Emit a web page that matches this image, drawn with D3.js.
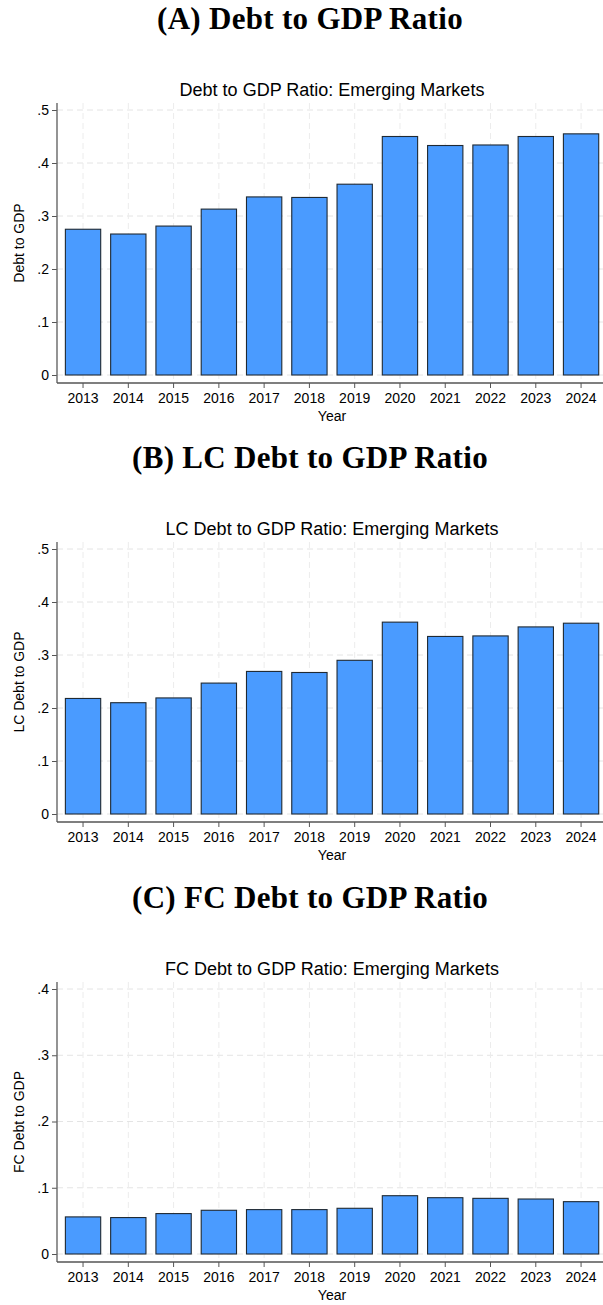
<!DOCTYPE html>
<meta charset="utf-8">
<html>
<head>
<script src="https://d3js.org/d3.v7.min.js"></script>
<style>
body { margin: 0; background: #fff; }
svg text { font-family: "Liberation Sans", Arial, Helvetica, sans-serif; }
.ptitle { font-family: "Liberation Serif", "Times New Roman", serif !important; font-weight: bold; }
</style>
</head>
<body>
<div id="chart"></div>
<script>

// data
var years = [2013, 2014, 2015, 2016, 2017, 2018, 2019, 2020, 2021, 2022, 2023, 2024];
var debtGdp   = [0.275, 0.266, 0.281, 0.313, 0.336, 0.335, 0.360, 0.450, 0.433, 0.434, 0.450, 0.455];
var lcDebtGdp = [0.218, 0.210, 0.219, 0.247, 0.269, 0.267, 0.290, 0.362, 0.335, 0.336, 0.353, 0.360];
var fcDebtGdp = [0.056, 0.055, 0.061, 0.066, 0.067, 0.067, 0.069, 0.088, 0.085, 0.084, 0.083, 0.079];

var panelTitles = ["(A) Debt to GDP Ratio", "(B) LC Debt to GDP Ratio", "(C) FC Debt to GDP Ratio"];
var subTitles = ["Debt to GDP Ratio: Emerging Markets", "LC Debt to GDP Ratio: Emerging Markets", "FC Debt to GDP Ratio: Emerging Markets"];
var yLabels = ["Debt to GDP", "LC Debt to GDP", "FC Debt to GDP"];
var yTicksAB = [0, 0.1, 0.2, 0.3, 0.4, 0.5];
var yTicksC = [0, 0.1, 0.2, 0.3, 0.4];

var W = 603, H = 1305;
var svg = d3.select("#chart")
  .append("svg")
    .attr("width", W)
    .attr("height", H);

var fmt = function(d) { return d === 0 ? "0" : d3.format(".1f")(d).replace("0.", "."); };

function drawPanel(off, title, sub, ylab, values, yTicks) {
  var g = svg.append("g").attr("transform", "translate(0," + off + ")");

  var left = 57, right = 603, top = 103, bottom = 383;

  var x = d3.scaleBand()
    .domain(years)
    .range([60.4, 603.7])
    .paddingInner(0.22)
    .paddingOuter(0.11);

  var y = d3.scaleLinear()
    .domain([0, d3.max(yTicks)])
    .range([375, 110]);

  // titles
  g.append("text")
    .attr("class", "ptitle")
    .attr("x", 310).attr("y", 29)
    .attr("text-anchor", "middle")
    .style("font-size", "31px")
    .style("letter-spacing", "0.3px")
    .text(title);
  g.append("text")
    .attr("x", 332).attr("y", 96)
    .attr("text-anchor", "middle")
    .style("font-size", "18px")
    .text(sub);

  // grid
  g.append("g").selectAll("line")
    .data(yTicks)
    .enter()
    .append("line")
      .attr("x1", left).attr("x2", right)
      .attr("y1", function(d) { return y(d); })
      .attr("y2", function(d) { return y(d); })
      .attr("stroke", "#e4e4e4")
      .attr("stroke-dasharray", "6,4");
  g.append("g").selectAll("line")
    .data(years)
    .enter()
    .append("line")
      .attr("x1", function(d) { return x(d) + x.bandwidth() / 2; })
      .attr("x2", function(d) { return x(d) + x.bandwidth() / 2; })
      .attr("y1", top).attr("y2", bottom)
      .attr("stroke", "#ececec")
      .attr("stroke-dasharray", "6,4");

  // bars
  g.append("g").selectAll("rect")
    .data(values)
    .enter()
    .append("rect")
      .attr("x", function(d, i) { return x(years[i]); })
      .attr("y", function(d) { return y(d); })
      .attr("width", x.bandwidth())
      .attr("height", function(d) { return y(0) - y(d); })
      .style("fill", "#4a9bff")
      .style("stroke", "#1f2933")
      .style("stroke-width", 1.1);

  // axes
  var ya = g.append("g")
    .attr("transform", "translate(" + left + ",0)")
    .call(d3.axisLeft(y).tickValues(yTicks).tickFormat(fmt).tickSize(5).tickSizeOuter(0).tickPadding(3));
  ya.select(".domain").remove();

  var xa = g.append("g")
    .attr("transform", "translate(0," + bottom + ")")
    .call(d3.axisBottom(x).tickSize(5).tickSizeOuter(0).tickPadding(5));
  xa.select(".domain").remove();

  g.selectAll(".tick line").attr("stroke", "#555");
  g.selectAll(".tick text")
    .style("font-size", "14px")
    .attr("fill", "#000");

  g.append("line")
    .attr("x1", left).attr("x2", left)
    .attr("y1", top).attr("y2", bottom)
    .attr("stroke", "#666").attr("stroke-width", 1.4);
  g.append("line")
    .attr("x1", left).attr("x2", right)
    .attr("y1", bottom).attr("y2", bottom)
    .attr("stroke", "#555").attr("stroke-width", 1.4);

  // axis titles
  g.append("text")
    .attr("x", 332).attr("y", 421)
    .attr("text-anchor", "middle")
    .style("font-size", "14px")
    .text("Year");
  g.append("text")
    .attr("transform", "translate(24,243) rotate(-90)")
    .attr("text-anchor", "middle")
    .style("font-size", "14px")
    .text(ylab);
}

drawPanel(0, panelTitles[0], subTitles[0], yLabels[0], debtGdp, yTicksAB);
drawPanel(439, panelTitles[1], subTitles[1], yLabels[1], lcDebtGdp, yTicksAB);
drawPanel(879, panelTitles[2], subTitles[2], yLabels[2], fcDebtGdp, yTicksC);

</script>
</body>
</html>
